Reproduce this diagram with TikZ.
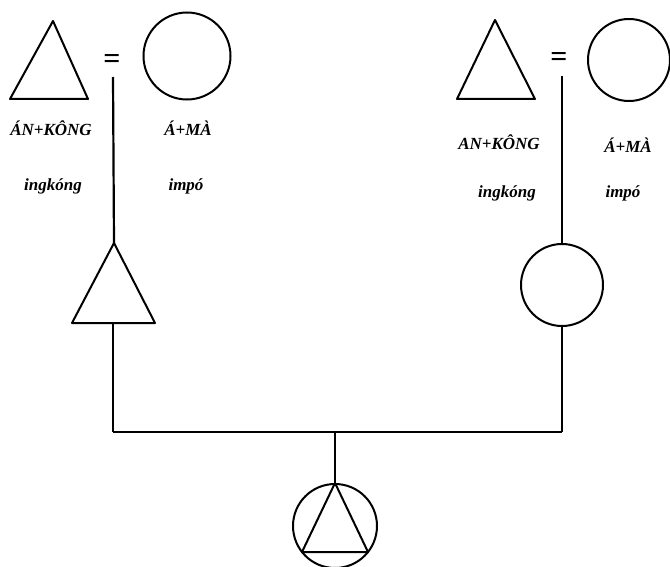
\documentclass[tikz,border=0pt]{standalone}
\usepackage{fontspec}
\setmainfont{Liberation Serif}
\begin{document}
\begin{tikzpicture}[x=1pt,y=-1pt,
  shapeline/.style={line width=2pt,line join=round},
  link/.style={line width=1.8pt},
  person/.style={circle,draw,line width=2pt,inner sep=0pt},
  kinname/.style={font=\fontsize{17}{17}\selectfont\itshape\bfseries,inner sep=0pt},
  gloss/.style={font=\fontsize{17}{17}\selectfont\itshape\bfseries,inner sep=0pt},
  eqsign/.style={font=\fontsize{30}{30}\selectfont\bfseries,inner sep=0pt}]
\useasboundingbox (0,0) rectangle (670,567);

% ---- left couple ----
\draw[shapeline] (53,21) -- (10,99) -- (88,99) -- cycle;
\node[eqsign] (eqL) at (112,61) {=};
\node[person,minimum size=87pt] (wL) at (187,56) {};
\node[kinname] (nL1) at (51,128) {ÁN+KÔNG};
\node[kinname] (nL2) at (188,128) {Á+MÀ};
\node[gloss] (gL1) at (53,186) {ingkóng};
\node[gloss] (gL2) at (186,186) {impó};
\coordinate (dropL) at (113,77);

% ---- right couple ----
\draw[shapeline] (495,20) -- (457,99) -- (535,99) -- cycle;
\node[eqsign] (eqR) at (559,60) {=};
\node[person,minimum size=82pt] (wR) at (629,60) {};
\node[kinname] (nR1) at (499,142) {AN+KÔNG};
\node[kinname] (nR2) at (628,145) {Á+MÀ};
\node[gloss] (gR1) at (507,193) {ingkóng};
\node[gloss] (gR2) at (623,193) {impó};
\coordinate (dropR) at (562,76);

% ---- children of the two couples ----
\coordinate (sonTop) at (114,243);
\coordinate (sonBase) at (113,323);
\draw[shapeline] (sonTop) -- (72,323) -- (155,323) -- cycle;
\node[person,minimum size=82pt] (dau) at (562,285) {};

% ---- the married pair's child ----
\node[person,minimum size=84pt] (ego) at (335,526) {};
\draw[shapeline] (ego.north) -- (302,552) -- (368,552) -- cycle;

% ---- lines of descent and marriage ----
\draw[link,line width=2.2pt] (dropL) -- (sonTop);
\draw[link,line width=1.8pt] (dropR) -- (dau.north);
\coordinate (barL) at (113,432);
\coordinate (barR) at (562,432);
\coordinate (barM) at (335,432);
\draw[link,line width=2.6pt] (sonBase) -- (barL);
\draw[link,line width=1.6pt] (dau.south) -- (barR);
\draw[link,line width=2.2pt] (barL) -- (barR);
\draw[link,line width=1.6pt] (barM) -- (ego.north);
\end{tikzpicture}
\end{document}
